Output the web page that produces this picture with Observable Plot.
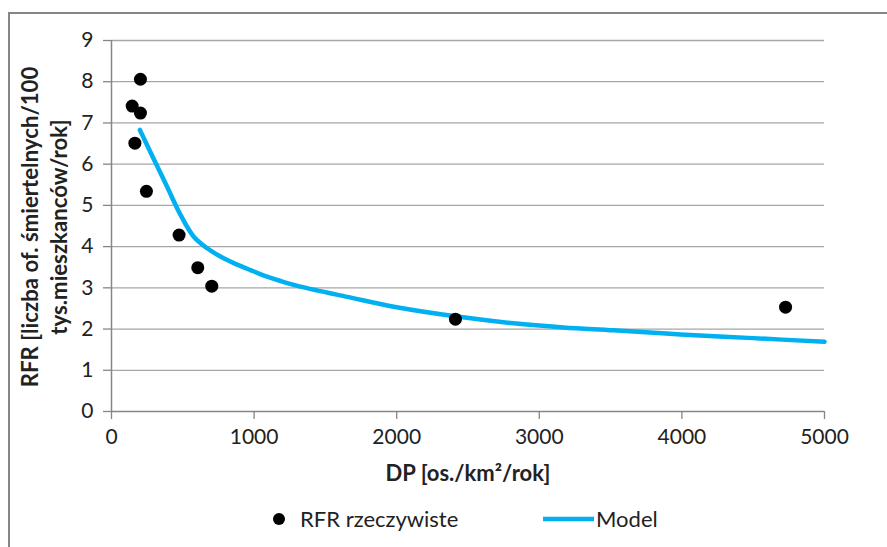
<!DOCTYPE html>
<html><head><meta charset="utf-8">
<script src="https://cdn.jsdelivr.net/npm/d3@7"></script>
<script src="https://cdn.jsdelivr.net/npm/@observablehq/plot@0.6"></script>
<style>body{margin:0;background:#fff;} #chart{position:relative;width:887px;height:547px;overflow:hidden;}</style>
</head><body><div id="chart"></div><script>
// Observed points
const dpObs  = [145, 203, 203, 164, 245, 474, 605, 703, 2412, 4727];
const rfrObs = [7.41, 8.06, 7.24, 6.51, 5.34, 4.28, 3.49, 3.04, 2.24, 2.53];
// Model curve
const dpModel  = [199, 297, 390, 484, 577, 671, 764, 858, 975, 1092, 1209, 1325, 1655, 2000, 2412, 2820, 3170, 3520, 3990, 4500, 5000];
const rfrModel = [6.83, 6.12, 5.45, 4.77, 4.24, 3.96, 3.76, 3.60, 3.43, 3.27, 3.14, 3.03, 2.78, 2.53, 2.31, 2.14, 2.04, 1.97, 1.87, 1.78, 1.69];
// Ticks and labels
const xTicks = [0, 1000, 2000, 3000, 4000, 5000];
const yTicks = [0, 1, 2, 3, 4, 5, 6, 7, 8, 9];
const xTitle = "DP [os./km²/rok]";
const yTitle = "RFR [liczba of. śmiertelnych/100\ntys.mieszkanców/rok]";
const seriesNames = ["RFR rzeczywiste", "Model"];

const obs = dpObs.map((d, i) => ({dp: d, rfr: rfrObs[i]}));
const model = dpModel.map((d, i) => ({dp: d, rfr: rfrModel[i]}));

const plot = Plot.plot({
  width: 887, height: 547,
  marginLeft: 111, marginRight: 63, marginTop: 40, marginBottom: 136,
  style: {fontFamily: "Lato, sans-serif", fontSize: "20px", color: "#222", background: "#fff"},
  x: {domain: [0, 5000]},
  y: {domain: [0, 9]},
  marks: [
    Plot.ruleY(yTicks.slice(1), {stroke: "#a6a6a6", strokeWidth: 1.3}),
    Plot.ruleY([0], {stroke: "#868686", strokeWidth: 1.5}),
    Plot.ruleX([0], {stroke: "#868686", strokeWidth: 1.5}),
    Plot.axisY({ticks: yTicks, tickSize: 8, tickPadding: 10, stroke: "#868686", strokeWidth: 1.3, label: null, fontSize: 21}),
    Plot.axisX({ticks: xTicks, tickSize: 8, tickPadding: 10, stroke: "#868686", strokeWidth: 1.3, tickFormat: d => String(d), label: null, fontSize: 21}),
    Plot.line(model, {x: "dp", y: "rfr", stroke: "#00b0f0", strokeWidth: 4.5, curve: "catmull-rom"}),
    Plot.dot(obs, {x: "dp", y: "rfr", r: 6.5, fill: "#000", stroke: "none"}),
    Plot.text([xTitle], {frameAnchor: "bottom", dy: 69, text: d => d, fontWeight: "bold", fontSize: 22, fill: "#222"}),
    Plot.text([yTitle], {frameAnchor: "left", dx: -68.5, dy: 1, rotate: -90, textAnchor: "middle", lineAnchor: "middle", text: d => d, lineHeight: 1.32, fontWeight: "bold", fontSize: 22.2, fill: "#222"})
  ]
});

const svg = d3.select(plot);
svg.insert("rect", ":first-child").attr("x", 9).attr("y", 13).attr("width", 900).attr("height", 600)
  .attr("fill", "none").attr("stroke", "#868686").attr("stroke-width", 2);
const lg = svg.append("g").attr("font-family", "Lato, sans-serif").attr("font-size", 22).attr("fill", "#222").attr("text-anchor", "start");
lg.append("circle").attr("cx", 279).attr("cy", 519).attr("r", 6).attr("fill", "#000");
lg.append("text").attr("x", 300).attr("y", 519).attr("dy", "0.35em").text(seriesNames[0]);
lg.append("line").attr("x1", 543).attr("x2", 594).attr("y1", 519).attr("y2", 519).attr("stroke", "#00b0f0").attr("stroke-width", 4.5);
lg.append("text").attr("x", 596).attr("y", 519).attr("dy", "0.35em").text(seriesNames[1]);

document.getElementById("chart").appendChild(plot);
</script></body></html>
